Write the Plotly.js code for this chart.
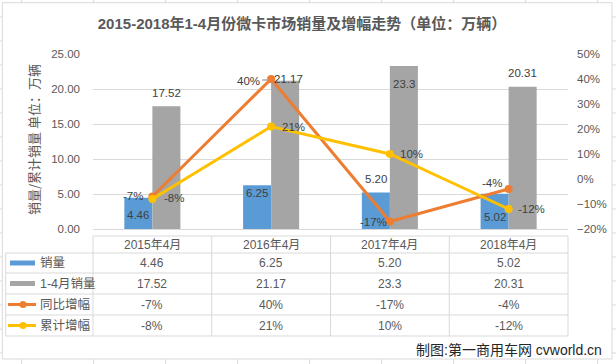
<!DOCTYPE html>
<html>
<head>
<meta charset="utf-8">
<script src="https://cdn.plot.ly/plotly-3.0.1.min.js"></script>
<style>
html,body{margin:0;padding:0;background:#fff;}
#chart{width:616px;height:364px;}
</style>
</head>
<body>
<div id="chart"></div>
<script>
// ---- data ----
const categories = ['2015年4月', '2016年4月', '2017年4月', '2018年4月'];
const seriesNames = ['销量', '1-4月销量', '同比增幅', '累计增幅'];
const sales = [4.46, 6.25, 5.20, 5.02];
const cumSales = [17.52, 21.17, 23.3, 20.31];
const yoyGrowth = [-0.07, 0.40, -0.17, -0.04];
const cumGrowth = [-0.08, 0.21, 0.10, -0.12];
const leftTicks = [0, 5, 10, 15, 20, 25];
const rightTicks = [-0.2, -0.1, 0, 0.1, 0.2, 0.3, 0.4, 0.5];
const titleText = '2015-2018年1-4月份微卡市场销量及增幅走势（单位：万辆）';
const yTitleText = '销量/累计销量 单位：万辆';
const creditText = '制图:第一商用车网 cvworld.cn';

// ---- style ----
const W = 616, H = 364;
const M = {l: 93, r: 48, t: 54, b: 135};
const PW = W - M.l - M.r, PH = H - M.t - M.b;
const colors = ['#5B9BD5', '#A5A5A5', '#ED7D31', '#FFC000'];
const FONT = 'Liberation Sans, Noto Sans CJK SC, sans-serif';
const CJK = 'Noto Sans CJK SC, Liberation Sans, sans-serif';
const txtColor = '#595959', lblColor = '#404040', gridColor = '#D9D9D9';
const bargap = 0.528;
// label offsets [xshift, yshift] in px
const salesLblOff = [[0, -17], [0, -8], [0, 13.5], [0, -23]];
const cumLblOff = [[0, 13], [3, 2], [0, -18], [0, 14]];
const yoyLblOff = [[-19, 1], [-23, -2], [-16, 0], [-17, 6]];
const cumGrLblOff = [[22, 1], [22, 0], [22, 0], [23, 0]];

const X = px => (px - M.l) / PW;
const Y = py => (M.t + PH - py) / PH;
const fmt2 = v => v.toFixed(2);
const fmtRaw = v => String(v);
const fmtPct = v => Math.round(v * 100) + '%';

const catPx = PW / categories.length;
const barPx = catPx * (1 - bargap) / 2;
const barOff = barPx / 2;

const traces = [
  {type: 'bar', name: seriesNames[0], x: categories, y: sales, marker: {color: colors[0]}, yaxis: 'y', hoverinfo: 'none'},
  {type: 'bar', name: seriesNames[1], x: categories, y: cumSales, marker: {color: colors[1]}, yaxis: 'y', hoverinfo: 'none'},
  {type: 'scatter', mode: 'lines+markers', name: seriesNames[2], x: categories, y: yoyGrowth, yaxis: 'y2',
   line: {color: colors[2], width: 3}, marker: {color: colors[2], size: 8}, hoverinfo: 'none'},
  {type: 'scatter', mode: 'lines+markers', name: seriesNames[3], x: categories, y: cumGrowth, yaxis: 'y2',
   line: {color: colors[3], width: 3}, marker: {color: colors[3], size: 8}, hoverinfo: 'none'}
];

const annotations = [];
const shapes = [];
const lblFont = {family: FONT, size: 11.5, color: lblColor};

// data labels
categories.forEach((c, i) => {
  annotations.push({x: c, y: sales[i], xref: 'x', yref: 'y', text: fmt2(sales[i]), showarrow: false,
    xshift: -barOff + salesLblOff[i][0], yshift: salesLblOff[i][1], font: lblFont, xanchor: 'center', yanchor: 'middle'});
  annotations.push({x: c, y: cumSales[i], xref: 'x', yref: 'y', text: fmtRaw(cumSales[i]), showarrow: false,
    xshift: barOff + cumLblOff[i][0], yshift: cumLblOff[i][1], font: lblFont, xanchor: 'center', yanchor: 'middle'});
  annotations.push({x: c, y: yoyGrowth[i], xref: 'x', yref: 'y2', text: fmtPct(yoyGrowth[i]), showarrow: false,
    xshift: yoyLblOff[i][0], yshift: yoyLblOff[i][1], font: lblFont, xanchor: 'center', yanchor: 'middle'});
  annotations.push({x: c, y: cumGrowth[i], xref: 'x', yref: 'y2', text: fmtPct(cumGrowth[i]), showarrow: false,
    xshift: cumGrLblOff[i][0], yshift: cumGrLblOff[i][1], font: lblFont, xanchor: 'center', yanchor: 'middle'});
});
// small leader line next to the 40% label
shapes.push({type: 'line', xref: 'x', yref: 'y2', xsizemode: 'pixel', ysizemode: 'pixel',
  xanchor: 1, yanchor: yoyGrowth[1], x0: -9, x1: -4, y0: -1, y1: -1, line: {color: '#7F7F7F', width: 1}});

// ---- data table ----
const tblTop = 236, rowEdges = [253, 273, 294, 315, 336];
const tblLeft = 5.7, colLeft = M.l, tblRight = M.l + PW;
const tblLine = {color: '#D9D9D9', width: 1};
const hline = (x0, x1, y) => shapes.push({type: 'line', xref: 'paper', yref: 'paper', x0: X(x0), x1: X(x1), y0: Y(y), y1: Y(y), line: tblLine});
const vline = (x, y0, y1) => shapes.push({type: 'line', xref: 'paper', yref: 'paper', x0: X(x), x1: X(x), y0: Y(y0), y1: Y(y1), line: tblLine});
hline(colLeft, tblRight, tblTop);
rowEdges.forEach(y => hline(tblLeft, tblRight, y));
vline(tblLeft, rowEdges[0], rowEdges[rowEdges.length - 1]);
for (let k = 0; k <= categories.length; k++) vline(colLeft + k * catPx, tblTop, rowEdges[rowEdges.length - 1]);

const tblFont = {family: FONT, size: 12, color: txtColor};
const headerY = (tblTop + rowEdges[0]) / 2;
categories.forEach((c, i) => {
  annotations.push({x: c, xref: 'x', y: Y(headerY), yref: 'paper', text: c, showarrow: false, font: tblFont, xanchor: 'center', yanchor: 'middle'});
});
const rowVals = [sales.map(fmt2), cumSales.map(fmtRaw), yoyGrowth.map(fmtPct), cumGrowth.map(fmtPct)];
rowVals.forEach((vals, r) => {
  const yc = (rowEdges[r] + rowEdges[r + 1]) / 2;
  vals.forEach((v, i) => {
    annotations.push({x: categories[i], xref: 'x', y: Y(yc), yref: 'paper', text: v, showarrow: false, font: tblFont, xanchor: 'center', yanchor: 'middle'});
  });
  annotations.push({x: X(38), xref: 'paper', y: Y(yc), yref: 'paper', text: seriesNames[r], showarrow: false,
    font: {family: FONT, size: 12.5, color: txtColor}, xanchor: 'left', yanchor: 'middle'});
  if (r < 2) {
    shapes.push({type: 'rect', xref: 'paper', yref: 'paper', x0: X(10), x1: X(35), y0: Y(yc - 2.5), y1: Y(yc + 2.5), fillcolor: colors[r], line: {width: 0}});
  } else {
    shapes.push({type: 'line', xref: 'paper', yref: 'paper', x0: X(8), x1: X(36), y0: Y(yc), y1: Y(yc), line: {color: colors[r], width: 3}});
    shapes.push({type: 'circle', xref: 'paper', yref: 'paper', x0: X(19.5), x1: X(26.5), y0: Y(yc - 3.5), y1: Y(yc + 3.5), fillcolor: colors[r], line: {width: 0}});
  }
});

// chart border and surrounding spreadsheet cell grid (decorative)
const cellLine = {color: '#DADADA', width: 1};
for (let gx = 21.6; gx < W; gx += 72) {
  shapes.push({type: 'line', xref: 'paper', yref: 'paper', x0: X(gx), x1: X(gx), y0: Y(0), y1: Y(2.7), line: cellLine, layer: 'below'});
  shapes.push({type: 'line', xref: 'paper', yref: 'paper', x0: X(gx), x1: X(gx), y0: Y(359), y1: Y(364), line: cellLine, layer: 'below'});
}
for (let gy = 17; gy < H; gy += 24) {
  shapes.push({type: 'line', xref: 'paper', yref: 'paper', x0: X(0), x1: X(2.3), y0: Y(gy), y1: Y(gy), line: cellLine, layer: 'below'});
  shapes.push({type: 'line', xref: 'paper', yref: 'paper', x0: X(612), x1: X(616), y0: Y(gy), y1: Y(gy), line: cellLine, layer: 'below'});
}
shapes.push({type: 'rect', xref: 'paper', yref: 'paper', x0: X(2.3), x1: X(612), y0: Y(359), y1: Y(2.7), line: {color: '#D9D9D9', width: 1}, fillcolor: 'rgba(0,0,0,0)', layer: 'below'});

// y axis title and credit
annotations.push({x: X(33), xref: 'paper', y: Y(140), yref: 'paper', text: yTitleText, textangle: -90, showarrow: false,
  font: {family: CJK, size: 13, color: txtColor}, xanchor: 'center', yanchor: 'middle'});
annotations.push({x: X(604), xref: 'paper', y: Y(350), yref: 'paper', text: creditText, showarrow: false,
  font: {family: FONT, size: 14, color: '#262626'}, xanchor: 'right', yanchor: 'middle'});

const layout = {
  width: W, height: H,
  margin: M,
  paper_bgcolor: '#ffffff', plot_bgcolor: 'rgba(0,0,0,0)',
  showlegend: false,
  barmode: 'group', bargap: bargap, bargroupgap: 0,
  title: {text: titleText, x: 302 / W, xref: 'container', y: 1 - 24 / H, yref: 'container', xanchor: 'center', yanchor: 'middle',
    font: {family: FONT, size: 15, color: txtColor, weight: 'bold'}},
  xaxis: {type: 'category', range: [-0.5, categories.length - 0.5], showticklabels: false, showgrid: false, zeroline: false, showline: false, ticks: ''},
  yaxis: {range: [0, 25], tickvals: leftTicks, tickformat: '.2f', showgrid: true, gridcolor: gridColor, gridwidth: 1,
    zeroline: true, zerolinecolor: gridColor, zerolinewidth: 1, showline: false, ticks: '', ticklabelstandoff: 12,
    tickfont: {family: FONT, size: 11.5, color: txtColor}},
  yaxis2: {overlaying: 'y', side: 'right', range: [-0.2, 0.5], tickvals: rightTicks, tickformat: '.0%', showgrid: false, zeroline: false,
    showline: false, ticks: '', ticklabelstandoff: 8, tickfont: {family: FONT, size: 11.5, color: txtColor}},
  annotations: annotations,
  shapes: shapes
};

Plotly.newPlot('chart', traces, layout, {staticPlot: true, displayModeBar: false});
</script>
</body>
</html>
